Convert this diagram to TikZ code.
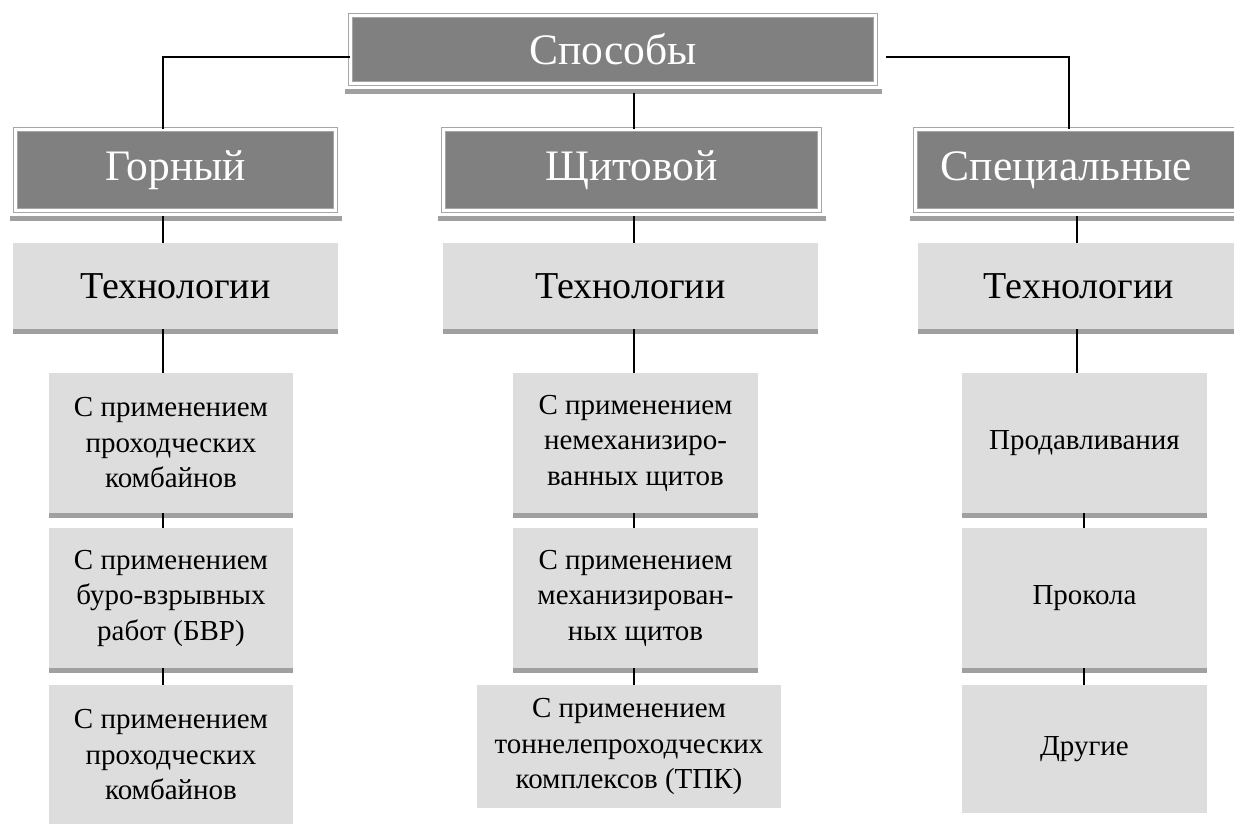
\documentclass[tikz,border=0pt]{standalone}
\usepackage{fontspec}
\setmainfont{Liberation Serif}
\usetikzlibrary{calc}
\definecolor{hdrfill}{HTML}{808080}
\definecolor{hdredge}{HTML}{A6A6A6}
\definecolor{lightfill}{HTML}{DDDDDD}
\definecolor{barcol}{HTML}{A0A0A0}
\newcommand\hdrshadow[1]{\fill[barcol] ($(#1.south west)+(-5.5,5.5)$) rectangle ($(#1.south east)+(6.5,10)$);}
\newcommand\lightbar[1]{\fill[barcol] (#1.south west) rectangle ($(#1.south east)+(0,5)$);}
\begin{document}
\begin{tikzpicture}[x=1pt,y=-1pt,
  hdrbox/.style={draw=hdredge, double=white, double distance=2.6pt, line width=0.9pt,
    fill=hdrfill, text=white, inner sep=0pt, font=\fontsize{43.5}{50}\selectfont},
  techbox/.style={fill=lightfill, inner sep=0pt, font=\fontsize{38}{44}\selectfont},
  subbox/.style={fill=lightfill, inner sep=0pt, align=center, font=\fontsize{29}{35.5}\selectfont},
  link/.style={draw=black, line width=1.3pt}]
\useasboundingbox (0,0) rectangle (1234,823);
\begin{scope}
\clip (0,0) rectangle (1234,823);
% header boxes
\node[hdrbox, minimum width=525pt, minimum height=68pt] (sp) at (613,49.5) {Способы};
\node[hdrbox, minimum width=320pt, minimum height=81pt] (gor) at (175.5,170) {Горный};
\node[hdrbox, minimum width=376pt, minimum height=81pt] (shch) at (631.5,170) {Щитовой};
\node[hdrbox, minimum width=322pt, minimum height=81pt] (spec) at (1076.5,170) {\hspace*{-20pt}Специальные};
\hdrshadow{sp}\hdrshadow{gor}\hdrshadow{shch}\hdrshadow{spec}
% technology boxes
\node[techbox, minimum width=325pt, minimum height=86pt] (tL) at (175.5,286) {Технологии};
\node[techbox, minimum width=375pt, minimum height=86pt] (tM) at (630.5,286) {Технологии};
\node[techbox, minimum width=322pt, minimum height=86pt] (tR) at (1079,286) {Технологии};
\lightbar{tL}\lightbar{tM}\lightbar{tR}
% left column
\node[subbox, minimum width=244pt, minimum height=140pt] (L1) at (171,443) {С применением\\проходческих\\комбайнов};
\node[subbox, minimum width=244pt, minimum height=140pt] (L2) at (171,598) {С применением\\буро-взрывных\\работ (БВР)};
\node[subbox, minimum width=244pt, minimum height=140pt] (L3) at (171,755) {С применением\\проходческих\\комбайнов};
\lightbar{L1}\lightbar{L2}
% middle column
\node[subbox, minimum width=245pt, minimum height=140pt] (M1) at (635.5,443) {С применением\\немеханизиро-\\ванных щитов};
\node[subbox, minimum width=245pt, minimum height=140pt] (M2) at (635.5,598) {С применением\\механизирован-\\ных щитов};
\node[subbox, minimum width=304pt, minimum height=123pt] (M3) at (629,746.5) {С применением\\тоннелепроходческих\\комплексов (ТПК)};
\lightbar{M1}\lightbar{M2}
% right column
\node[subbox, minimum width=245pt, minimum height=140pt] (R1) at (1084.5,443) {Продавливания};
\node[subbox, minimum width=245pt, minimum height=140pt] (R2) at (1084.5,598) {Прокола};
\node[subbox, minimum width=245pt, minimum height=128pt] (R3) at (1084.5,749) {Другие};
\lightbar{R1}\lightbar{R2}
% connectors
\coordinate (xL) at (163,57);
\coordinate (xS) at (1069,57);
\coordinate (xM) at (634,0);
\coordinate (xR) at (1077,0);
\coordinate (xR2) at (1084,0);
\draw[link] (sp.west |- xL) -| (gor.north -| xL);
\draw[link] ([xshift=10pt]sp.east |- xS) -| (spec.north -| xS);
\draw[link] ($(sp.south -| xM)+(0,9)$) -- (shch.north -| xM);
\draw[link] ($(gor.south -| xL)+(0,5.5)$) -- (tL.north -| xL);
\draw[link] ($(shch.south -| xM)+(0,5.5)$) -- (tM.north -| xM);
\draw[link] ($(spec.south -| xR)+(0,5.5)$) -- (tR.north -| xR);
\draw[link] (tL.south -| xL) -- (L1.north -| xL);
\draw[link] (tM.south -| xM) -- (M1.north -| xM);
\draw[link] (tR.south -| xR) -- (R1.north -| xR);
\draw[link] (L1.south -| xL) -- (L2.north -| xL);
\draw[link] (L2.south -| xL) -- (L3.north -| xL);
\draw[link] (M1.south -| xM) -- (M2.north -| xM);
\draw[link] (M2.south -| xM) -- (M3.north -| xM);
\draw[link] (R1.south -| xR2) -- (R2.north -| xR2);
\draw[link] (R2.south -| xR2) -- (R3.north -| xR2);
\end{scope}
\end{tikzpicture}
\end{document}
